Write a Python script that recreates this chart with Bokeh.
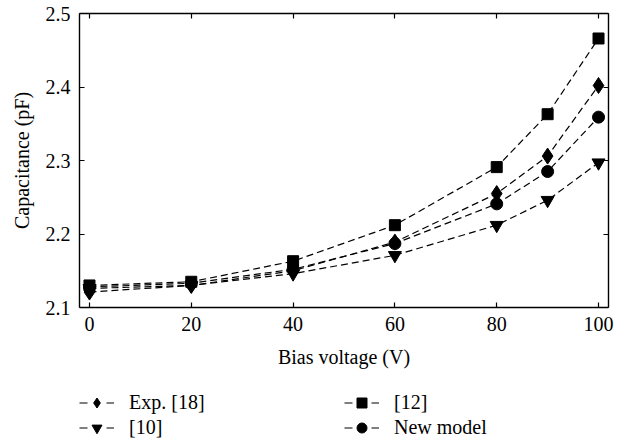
from bokeh.plotting import figure
from bokeh.layouts import column
from bokeh.models import (LinearAxis, Legend, LegendItem, FixedTicker, Range1d,
                          CustomJSTickFormatter)
from bokeh.embed import file_html
from bokeh.resources import INLINE

# Data
bias_v = [0, 20, 40, 60, 80, 90, 100]
exp18 = [2.121, 2.130, 2.150, 2.189, 2.255, 2.306, 2.402]
ref12 = [2.130, 2.135, 2.163, 2.212, 2.291, 2.363, 2.466]
ref10 = [2.126, 2.130, 2.146, 2.171, 2.212, 2.246, 2.297]
new_model = [2.128, 2.133, 2.152, 2.187, 2.241, 2.285, 2.359]

x_ticks = [0, 20, 40, 60, 80, 100]
y_ticks = [2.1, 2.2, 2.3, 2.4, 2.5]

FONT = "Liberation Serif"
FS = "20px"

p = figure(frame_width=529, frame_height=294,
           x_range=Range1d(-1.96, 101.96), y_range=Range1d(2.1, 2.5),
           output_backend="svg", toolbar_location=None,
           min_border_left=79, min_border_right=9, min_border_top=13,
           min_border_bottom=75)
p.xgrid.visible = False
p.ygrid.visible = False
p.outline_line_color = None
p.background_fill_color = "white"
p.border_fill_color = "white"

def style_axis(ax, ticks, show_labels=True):
    ax.ticker = FixedTicker(ticks=ticks)
    ax.minor_tick_line_color = None
    ax.major_tick_in = 5
    ax.major_tick_out = 0
    ax.axis_line_color = "black"
    ax.axis_line_width = 1.4
    ax.major_tick_line_color = "black"
    ax.major_tick_line_width = 1.2
    ax.major_label_text_font = FONT
    ax.major_label_text_font_size = FS
    ax.major_label_text_color = "black"
    ax.axis_label_text_font = FONT
    ax.axis_label_text_font_size = FS
    ax.axis_label_text_font_style = "normal"
    ax.axis_label_text_color = "black"
    if not show_labels:
        ax.formatter = CustomJSTickFormatter(code="return ''")
        ax.major_label_standoff = 0

style_axis(p.xaxis[0], x_ticks)
style_axis(p.yaxis[0], y_ticks)
p.xaxis[0].axis_label = "Bias voltage (V)"
p.yaxis[0].axis_label = "Capacitance (pF)"
p.xaxis[0].major_label_standoff = 9
p.xaxis[0].axis_label_standoff = 12
p.yaxis[0].major_label_standoff = 9
p.yaxis[0].axis_label_standoff = 10

top_ax = LinearAxis()
style_axis(top_ax, x_ticks, show_labels=False)
p.add_layout(top_ax, "above")
right_ax = LinearAxis()
style_axis(right_ax, y_ticks, show_labels=False)
p.add_layout(right_ax, "right")

DASH = "7 4"
LEGEND_DASH = "8 19"
series = [
    ("Exp. [18]", exp18, "diamond", 16),
    ("[10]", ref10, "inverted_triangle", 13),
    ("[12]", ref12, "square", 11),
    ("New model", new_model, "circle", 12),
]

# Legend lives in a frameless strip below the chart; its sample glyphs come
# from copies of the series whose data fall outside that strip's range.
leg_fig = figure(frame_width=529, frame_height=52,
                 x_range=Range1d(-1.96, 101.96), y_range=Range1d(0, 1),
                 output_backend="svg", toolbar_location=None,
                 min_border_left=79, min_border_right=9, min_border_top=8,
                 min_border_bottom=0)
leg_fig.axis.visible = False
leg_fig.grid.visible = False
leg_fig.outline_line_color = None
leg_fig.border_fill_color = "white"

items = []
for label, ys, marker, size in series:
    p.line(bias_v, ys, line_color="black", line_width=1.2, line_dash=DASH)
    p.scatter(bias_v, ys, marker=marker, size=size,
              fill_color="black", line_color="black")
    ln = leg_fig.line(bias_v, ys, line_color="black", line_width=1.2,
                      line_dash=LEGEND_DASH)
    sc = leg_fig.scatter(bias_v, ys, marker=marker, size=size,
                         fill_color="black", line_color="black")
    items.append(LegendItem(label=label, renderers=[ln, sc]))

legend = Legend(items=items, ncols=2, location="top_left",
                glyph_width=35, glyph_height=25, label_height=20,
                label_width=215, label_standoff=15, spacing=0,
                padding=0, margin=0, border_line_color=None,
                background_fill_alpha=0,
                label_text_font=FONT, label_text_font_size=FS,
                label_text_color="black")
leg_fig.add_layout(legend, "center")

layout = column(p, leg_fig, spacing=0)
open("out.html", "w").write(file_html(layout, INLINE))
